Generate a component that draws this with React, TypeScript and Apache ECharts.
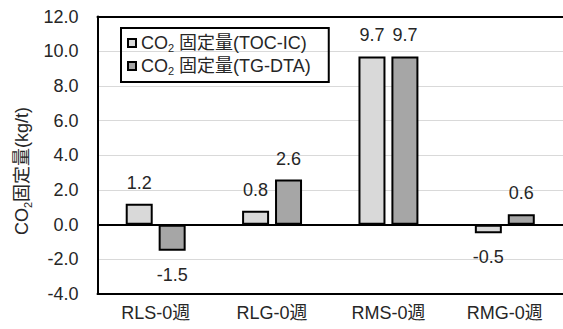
import React, { useEffect, useRef } from "react";
import * as echarts from "echarts";

const categories = ["RLS-0週", "RLG-0週", "RMS-0週", "RMG-0週"];
const seriesNames = ["CO2 固定量(TOC-IC)", "CO2 固定量(TG-DTA)"];
const tocIcValues = [1.2, 0.8, 9.7, -0.5];
const tgDtaValues = [-1.5, 2.6, 9.7, 0.6];
const barColors = ["#d9d9d9", "#a6a6a6"];
const yMin = -4;
const yMax = 12;
const yInterval = 2;

const FONT = "'Liberation Sans', Arial, 'Noto Sans CJK JP', sans-serif";
const TEXT = "#262626";
const FS = 18;

function toItems(values: number[]) {
  return values.map((v) => ({
    value: v,
    label: {
      position: v < 0 ? "bottom" : "top",
      distance: v < 0 ? 15 : 12,
    },
  }));
}

export default function App() {
  const ref = useRef<HTMLDivElement>(null);
  useEffect(() => {
    document.body.style.margin = "0";
    const chart = echarts.init(ref.current!, null, { renderer: "svg" });
    const makeSeries = (i: number, values: number[]) => ({
      name: seriesNames[i],
      type: "bar",
      data: toItems(values),
      barWidth: 27,
      barGap: "22%",
      itemStyle: { color: barColors[i], borderColor: "#000", borderWidth: 2 },
      label: {
        show: true,
        fontSize: FS,
        fontFamily: FONT,
        color: TEXT,
        formatter: (p: any) => Number(p.value).toFixed(1),
      },
      markLine:
        i === 0
          ? {
              silent: true,
              symbol: "none",
              label: { show: false },
              lineStyle: { color: "#000", width: 2, type: "solid" },
              data: [{ yAxis: 0 }],
            }
          : undefined,
    });
    chart.setOption({
      animation: false,
      grid: { left: 97.5, width: 468, top: 16.5, bottom: 35, containLabel: false },
      legend: {
        orient: "vertical",
        left: 121,
        top: 28,
        padding: [6, 18, 5, 6],
        borderColor: "#000",
        borderWidth: 2,
        itemWidth: 8,
        itemHeight: 8,
        itemGap: 3,
        icon: "rect",
        data: seriesNames,
        formatter: (name: string) =>
          "{a|CO}{s|2}{a|" + name.replace(/^CO2/, "") + "}",
        textStyle: {
          fontFamily: FONT,
          color: TEXT,
          rich: {
            a: { fontSize: FS, fontFamily: FONT, color: TEXT, lineHeight: 22, verticalAlign: "middle" },
            s: { fontSize: 11, fontFamily: FONT, color: TEXT, lineHeight: 13, verticalAlign: "bottom" },
          },
        },
      },
      xAxis: [
        {
          type: "category",
          data: categories,
          position: "bottom",
          axisLine: { onZero: false, lineStyle: { color: "#000", width: 2 } },
          axisTick: { show: false },
          axisLabel: { fontSize: FS, fontFamily: FONT, color: TEXT, margin: 10 },
        },
        {
          type: "category",
          data: categories,
          position: "top",
          axisLine: { onZero: false, lineStyle: { color: "#000", width: 2 } },
          axisTick: { show: false },
          axisLabel: { show: false },
        },
      ],
      yAxis: {
        type: "value",
        min: yMin,
        max: yMax,
        interval: yInterval,
        axisLine: { show: true, lineStyle: { color: "#000", width: 2 } },
        axisTick: { show: false },
        splitLine: { lineStyle: { color: "#d9d9d9", width: 1 } },
        axisLabel: {
          fontSize: FS,
          fontFamily: FONT,
          color: TEXT,
          margin: 19,
          formatter: (v: number) => v.toFixed(1),
        },
      },
      graphic: [
        {
          type: "text",
          x: 22,
          y: 171,
          rotation: Math.PI / 2,
          style: {
            text: "{a|CO}{s|2}{a|固定量(kg/t)}",
            align: "center",
            verticalAlign: "middle",
            rich: {
              a: { fontSize: FS, fontFamily: FONT, fill: TEXT, color: TEXT, lineHeight: 22, verticalAlign: "middle" },
              s: { fontSize: 11, fontFamily: FONT, fill: TEXT, color: TEXT, lineHeight: 13, verticalAlign: "bottom" },
            },
          },
        },
      ],
      series: [makeSeries(0, tocIcValues), makeSeries(1, tgDtaValues)],
    });
    return () => chart.dispose();
  }, []);
  return <div ref={ref} style={{ width: 563, height: 329 }} />;
}
